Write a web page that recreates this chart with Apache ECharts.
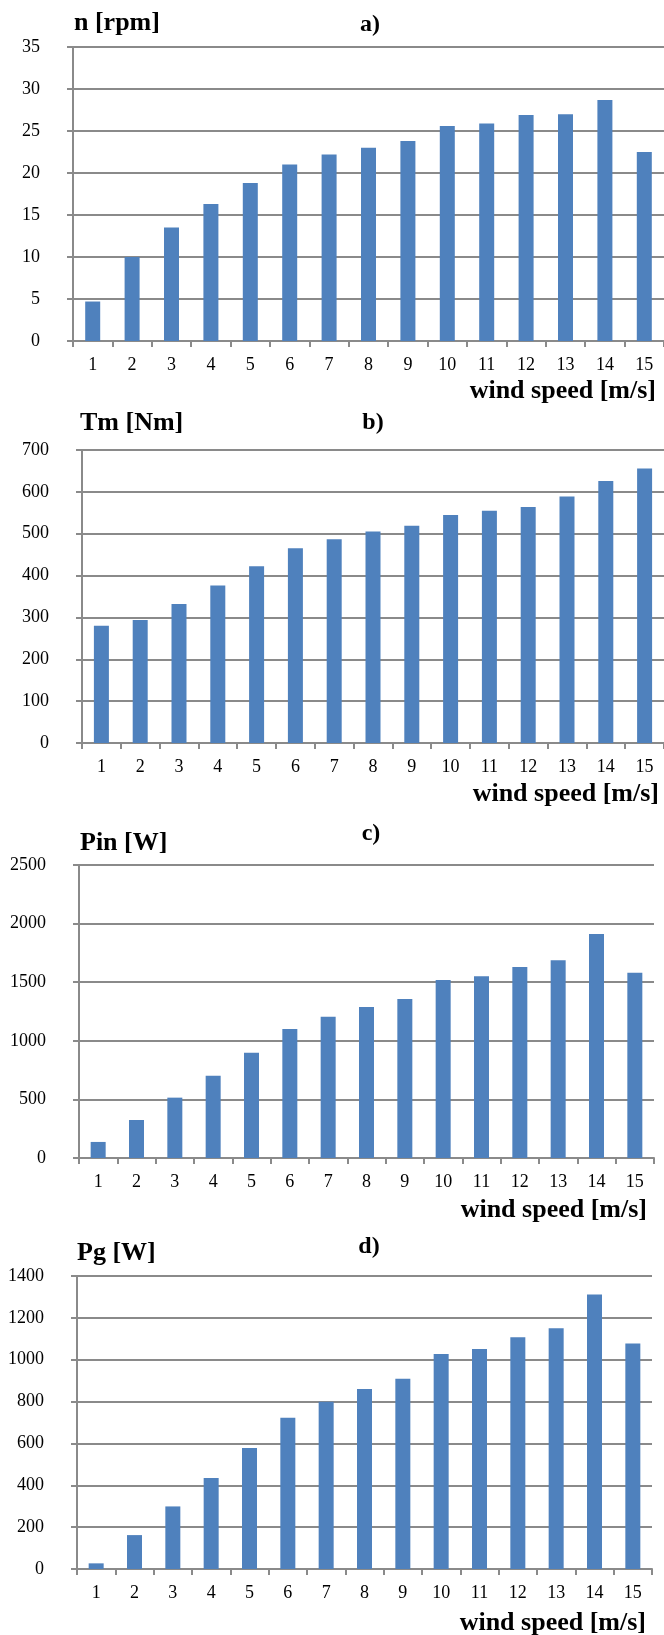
<!DOCTYPE html>
<html>
<head>
<meta charset="utf-8">
<script src="https://cdn.jsdelivr.net/npm/echarts@6/dist/echarts.min.js"></script>
<style>
  html, body { margin: 0; padding: 0; background: #fff; }
  #chart { width: 664px; height: 1635px; }
</style>
</head>
<body>
<div id="chart"></div>
<script>
// wind speed categories
var windSpeed = ['1','2','3','4','5','6','7','8','9','10','11','12','13','14','15'];

// a) rotor speed n [rpm]
var rpmValues = [4.7, 10, 13.5, 16.3, 18.8, 21, 22.2, 23, 23.8, 25.6, 25.9, 26.9, 27, 28.7, 22.5];
// b) torque Tm [Nm]
var torqueValues = [280, 294, 332, 376, 422, 465, 487, 505, 519, 545, 555, 564, 589, 626, 656];
// c) input power Pin [W]
var pinValues = [137, 324, 515, 702, 899, 1101, 1206, 1288, 1357, 1519, 1550, 1630, 1687, 1911, 1581];
// d) generator power Pg [W]
var pgValues = [27, 162, 299, 435, 578, 723, 799, 860, 909, 1027, 1051, 1107, 1150, 1312, 1078];

var yNames = ['n [rpm]', 'Tm [Nm]', 'Pin [W]', 'Pg [W]'];
var panelTags = ['a)', 'b)', 'c)', 'd)'];
var yMax = [35, 700, 2500, 1400];
var yStep = [5, 100, 500, 200];
var xName = 'wind speed [m/s]';

var serif = 'Liberation Serif, Times New Roman, serif';
var gridColor = '#8a8a8a';
var barColor = '#4f81bd';

// panel geometry (px)
var panels = [
  { left: 73, top: 47, width: 593, height: 294, yName: [74, 23], tag: [370, 25], xName: [656, 391] },
  { left: 82, top: 450, width: 584, height: 293, yName: [80, 423], tag: [373, 423], xName: [659, 794] },
  { left: 79, top: 865, width: 575, height: 293, yName: [80, 843], tag: [371, 834], xName: [647, 1210] },
  { left: 77, top: 1276, width: 575, height: 293, yName: [77, 1253], tag: [369, 1247], xName: [646, 1623] }
];
var seriesData = [rpmValues, torqueValues, pinValues, pgValues];

var grids = [], xAxes = [], yAxes = [], series = [], texts = [];
panels.forEach(function (p, i) {
  grids.push({ left: p.left, top: p.top, width: p.width, height: p.height, containLabel: false });
  xAxes.push({
    type: 'category', gridIndex: i, data: windSpeed,
    axisLine: { lineStyle: { color: gridColor, width: 2 } },
    axisTick: { show: true, length: 6, lineStyle: { color: gridColor, width: 2 } },
    axisLabel: { color: '#000', fontFamily: serif, fontSize: 18, margin: 15 }
  });
  yAxes.push({
    type: 'value', gridIndex: i, min: 0, max: yMax[i], interval: yStep[i],
    axisLine: { show: true, lineStyle: { color: gridColor, width: 2 } },
    axisTick: { show: true, length: 6, lineStyle: { color: gridColor, width: 2 } },
    splitLine: { lineStyle: { color: gridColor, width: 2 } },
    axisLabel: {
      color: '#000', fontFamily: serif, fontSize: 18, margin: 33,
      formatter: function (v) { return String(v); }
    }
  });
  series.push({
    type: 'bar', xAxisIndex: i, yAxisIndex: i, data: seriesData[i],
    barWidth: 15, animation: false,
    itemStyle: { color: barColor }
  });
  texts.push({
    type: 'text', x: p.yName[0], y: p.yName[1],
    style: { text: yNames[i], font: 'bold 26px ' + serif, fill: '#000', textAlign: 'left', textVerticalAlign: 'middle' }
  });
  texts.push({
    type: 'text', x: p.tag[0], y: p.tag[1],
    style: { text: panelTags[i], font: 'bold 24px ' + serif, fill: '#000', textAlign: 'center', textVerticalAlign: 'middle' }
  });
  texts.push({
    type: 'text', x: p.xName[0], y: p.xName[1],
    style: { text: xName, font: 'bold 26px ' + serif, fill: '#000', textAlign: 'right', textVerticalAlign: 'middle' }
  });
});

var chart = echarts.init(document.getElementById('chart'), null, { renderer: 'canvas' });
chart.setOption({
  animation: false,
  backgroundColor: '#fff',
  grid: grids,
  xAxis: xAxes,
  yAxis: yAxes,
  series: series,
  graphic: texts
});
</script>
</body>
</html>
